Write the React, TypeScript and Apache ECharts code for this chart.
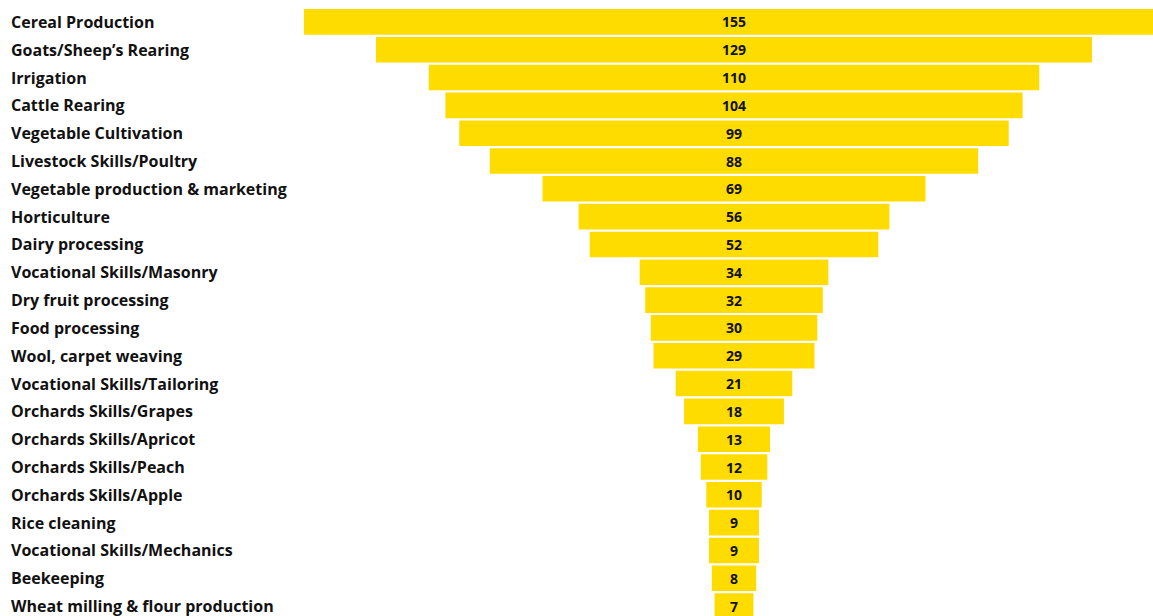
import React, { useEffect, useRef } from "react";
import * as echarts from "echarts";

const categories = [
  "Cereal Production",
  "Goats/Sheep’s Rearing",
  "Irrigation",
  "Cattle Rearing",
  "Vegetable Cultivation",
  "Livestock Skills/Poultry",
  "Vegetable production & marketing",
  "Horticulture",
  "Dairy processing",
  "Vocational Skills/Masonry",
  "Dry fruit processing",
  "Food processing",
  "Wool, carpet weaving",
  "Vocational Skills/Tailoring",
  "Orchards Skills/Grapes",
  "Orchards Skills/Apricot",
  "Orchards Skills/Peach",
  "Orchards Skills/Apple",
  "Rice cleaning",
  "Vocational Skills/Mechanics",
  "Beekeeping",
  "Wheat milling & flour production",
];

const values = [155, 129, 110, 104, 99, 88, 69, 56, 52, 34, 32, 30, 29, 21, 18, 13, 12, 10, 9, 9, 8, 7];

const AXIS_MAX = 160;

export default function App() {
  const ref = useRef<HTMLDivElement>(null);
  useEffect(() => {
    if (!ref.current) return;
    const chart = echarts.init(ref.current, null, { renderer: "svg" });
    const offsets = values.map((v) => (AXIS_MAX - v) / 2);
    chart.setOption({
      animation: false,
      grid: { left: 290, right: 0, top: 8, bottom: 0 },
      xAxis: { type: "value", min: 0, max: AXIS_MAX, show: false },
      yAxis: {
        type: "category",
        data: categories,
        inverse: true,
        axisLine: { show: false },
        axisTick: { show: false },
        splitLine: { show: false },
        axisLabel: {
          align: "left",
          margin: 279,
          fontSize: 16,
          fontWeight: "bold",
          color: "#111111",
          fontFamily: "Open Sans",
        },
      },
      series: [
        {
          type: "bar",
          stack: "f",
          data: offsets,
          itemStyle: { color: "transparent" },
          barCategoryGap: "8%",
          silent: true,
        },
        {
          type: "bar",
          stack: "f",
          data: values,
          itemStyle: { color: "#FFDC00" },
          barCategoryGap: "8%",
          label: {
            show: true,
            position: "inside",
            color: "#111111",
            fontSize: 14,
            fontWeight: "bold",
            fontFamily: "Open Sans",
          },
        },
      ],
    });
    return () => chart.dispose();
  }, []);
  return (
    <div
      style={{ position: "fixed", left: 0, top: 0, width: 1153, height: 616, overflow: "hidden", background: "#fff" }}
    >
      <div ref={ref} style={{ width: 1178, height: 619.6 }} />
    </div>
  );
}
